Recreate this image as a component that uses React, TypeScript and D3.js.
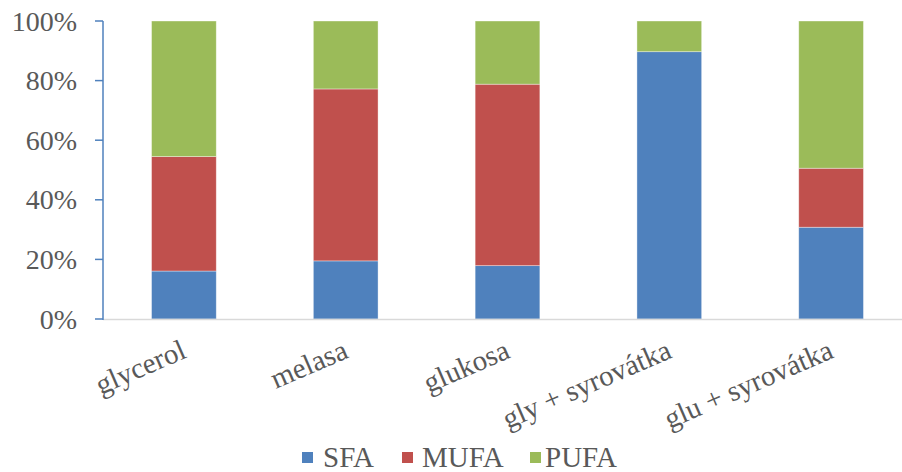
import React from "react";
import * as d3 from "d3";

// Fatty-acid composition (% of total) per carbon source
const categories = ["glycerol", "melasa", "glukosa", "gly + syrovátka", "glu + syrovátka"];
const sfa = [16.1, 19.5, 17.9, 89.7, 30.8];
const mufa = [38.4, 57.7, 60.9, 0, 19.8];
const pufa = [45.5, 22.8, 21.2, 10.3, 49.4];
const seriesNames = ["SFA", "MUFA", "PUFA"];
const seriesColors = ["#4F81BD", "#C0504D", "#9BBB59"];
const yTicks = [0, 20, 40, 60, 80, 100];

const W = 902;
const H = 472;
const FONT = "Liberation Serif, Times New Roman, DejaVu Serif, serif";
const TEXT = "#595959";

export default function App() {
  const rows = categories.map((c, i) => ({ cat: c, SFA: sfa[i], MUFA: mufa[i], PUFA: pufa[i] }));
  const stacked = d3.stack<any>().keys(seriesNames)(rows);

  const x = d3.scaleBand<string>().domain(categories).range([103, 912]).paddingInner(0.6).paddingOuter(0.3);
  const y = d3.scaleLinear().domain([0, 100]).range([319, 21]);
  const color = d3.scaleOrdinal<string, string>().domain(seriesNames).range(seriesColors);

  const legendItems = [
    { name: "SFA", sx: 302, tx: 323 },
    { name: "MUFA", sx: 402, tx: 422 },
    { name: "PUFA", sx: 530, tx: 545 },
  ];

  const textStyle = { fontFamily: FONT, fill: TEXT } as React.CSSProperties;

  return (
    <svg width={W} height={H} style={{ position: "absolute", left: 0, top: 0, background: "#fff" }}>
      {/* stacked bars */}
      {stacked.map((layer) => (
        <g key={layer.key}>
          {layer.map((d, i) => {
            const h = y(d[0]) - y(d[1]);
            if (h <= 0) return null;
            return (
              <rect
                key={i}
                x={x(categories[i])}
                y={y(d[1])}
                width={x.bandwidth()}
                height={h}
                fill={color(layer.key)}
                stroke="rgba(255,255,255,0.5)"
                strokeWidth={0.75}
              />
            );
          })}
        </g>
      ))}

      {/* category axis baseline */}
      <line x1={103} x2={W} y1={y(0) + 0.5} y2={y(0) + 0.5} stroke="#D9D9D9" strokeWidth={1.5} />

      {/* value axis */}
      <line x1={103} x2={103} y1={y(100)} y2={y(0) + 1} stroke="#4F81BD" strokeWidth={1.5} />
      {yTicks.map((t) => (
        <g key={t}>
          <line x1={95} x2={103} y1={y(t)} y2={y(t)} stroke="#4F81BD" strokeWidth={1.5} />
          <text x={77} y={y(t)} dy="0.34em" textAnchor="end" fontSize={28} style={textStyle}>
            {t}%
          </text>
        </g>
      ))}

      {/* rotated category labels */}
      {categories.map((c) => {
        const cx = (x(c) as number) + x.bandwidth() / 2;
        return (
          <text
            key={c}
            transform={`translate(${cx + 4},${357}) rotate(-23.5)`}
            textAnchor="end"
            fontSize={29}
            style={textStyle}
          >
            {c}
          </text>
        );
      })}

      {/* legend */}
      {legendItems.map((l) => (
        <g key={l.name}>
          <rect x={l.sx} y={452} width={11} height={11} fill={color(l.name)} />
          <text x={l.tx} y={467} fontSize={29} style={textStyle}>
            {l.name}
          </text>
        </g>
      ))}
    </svg>
  );
}
